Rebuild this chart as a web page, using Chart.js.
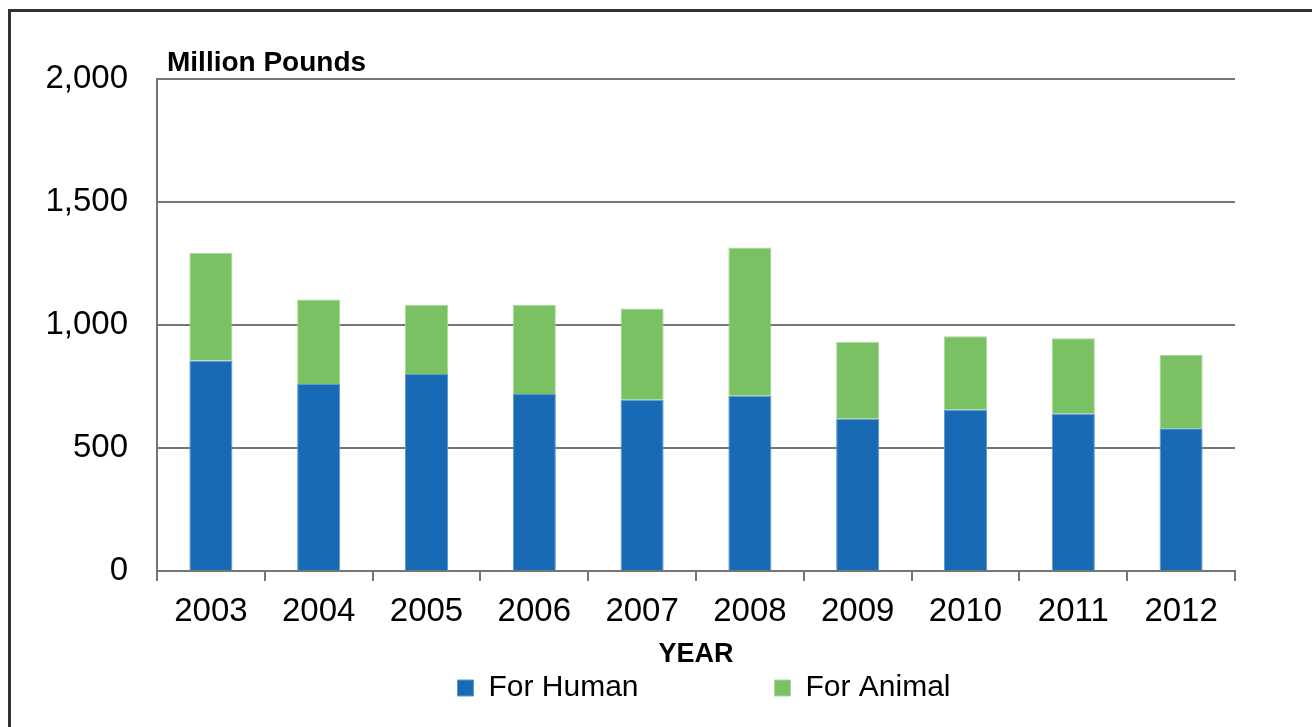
<!DOCTYPE html>
<html>
<head>
<meta charset="utf-8">
<script src="https://cdn.jsdelivr.net/npm/chart.js@4/dist/chart.umd.min.js"></script>
<style>
  html, body { margin: 0; padding: 0; background: #ffffff; overflow: hidden; }
  #frame { position: absolute; left: 8px; top: 9px; width: 1400px; height: 800px;
           border-left: 3px solid #333333; border-top: 3px solid #333333; }
  #wrap { position: absolute; left: 0; top: 0; width: 1312px; height: 727px; }
</style>
</head>
<body>
<div id="frame"></div>
<div id="wrap"><canvas id="c"></canvas></div>
<script>
const years = ['2003', '2004', '2005', '2006', '2007', '2008', '2009', '2010', '2011', '2012'];
const forHuman = [856, 760, 801, 720, 696, 712, 619, 655, 639, 580];
const forAnimal = [438, 344, 280, 361, 371, 603, 313, 299, 307, 298];
const yTicks = [0, 500, 1000, 1500, 2000];
const yTitle = 'Million Pounds';
const xTitle = 'YEAR';

const FONT = "'Liberation Sans', Arial, sans-serif";
const AXIS = '#757575';

const topTitle = {
  id: 'topTitle',
  afterDraw(chart) {
    const ctx = chart.ctx;
    ctx.save();
    ctx.font = 'bold 28px ' + FONT;
    ctx.fillStyle = '#000';
    ctx.textAlign = 'left';
    ctx.textBaseline = 'alphabetic';
    ctx.fillText(yTitle, chart.chartArea.left + 10, 71);
    ctx.restore();
  }
};

const legendPlace = {
  id: 'legendPlace',
  afterLayout(chart) {
    const lg = chart.legend;
    if (!lg) return;
    lg.top = 537;
    lg.bottom = 727;
    lg.height = lg.bottom - lg.top;
    lg.left += 8;
    lg.right += 8;
  }
};

new Chart(document.getElementById('c'), {
  type: 'bar',
  data: {
    labels: years,
    datasets: [
      { label: 'For Human', data: forHuman, backgroundColor: '#196ab4',
        borderColor: '#5e98cf', borderWidth: 1, borderSkipped: 'bottom' },
      { label: 'For Animal', data: forAnimal, backgroundColor: '#79c162',
        borderColor: '#aad89b', borderWidth: 1, borderSkipped: 'bottom' }
    ]
  },
  options: {
    responsive: true,
    maintainAspectRatio: false,
    animation: false,
    datasets: { bar: { barPercentage: 0.4, categoryPercentage: 1.0 } },
    layout: { padding: { top: 79, left: 0, right: 77, bottom: 16 } },
    scales: {
      x: {
        stacked: true,
        offset: true,
        border: { display: true, color: AXIS, width: 2 },
        grid: { display: true, offset: true, drawOnChartArea: false, drawTicks: true,
                tickLength: 10, color: AXIS, lineWidth: 2 },
        ticks: { color: '#000', font: { family: FONT, size: 33 }, padding: 11,
                 maxRotation: 0, autoSkip: false },
        title: { display: true, text: xTitle, color: '#000',
                 font: { family: FONT, size: 27, weight: 'bold' },
                 padding: { top: -4, bottom: 0 } }
      },
      y: {
        stacked: true,
        min: 0,
        max: 2000,
        afterBuildTicks(axis) { axis.ticks = yTicks.map(v => ({ value: v })); },
        afterFit(axis) { axis.width = 157; },
        border: { display: true, color: AXIS, width: 2 },
        grid: { display: true, drawTicks: false, color: AXIS, lineWidth: 2 },
        ticks: { color: '#000', font: { family: FONT, size: 33 }, padding: 29,
                 callback: v => Number(v).toLocaleString('en-US') }
      }
    },
    plugins: {
      title: { display: false },
      tooltip: { enabled: false },
      legend: {
        display: true,
        position: 'bottom',
        fullSize: false,
        maxHeight: 40,
        labels: { color: '#000', font: { family: FONT, size: 30 },
                  boxWidth: 16, boxHeight: 16, padding: 136 }
      }
    }
  },
  plugins: [topTitle, legendPlace]
});
</script>
</body>
</html>
